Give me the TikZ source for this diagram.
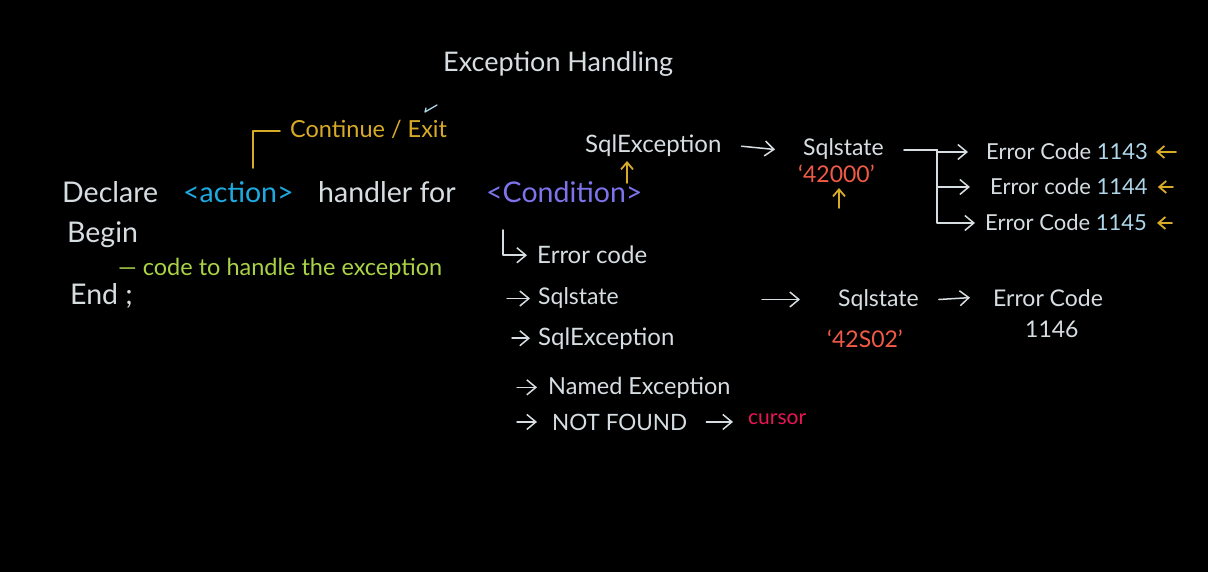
\documentclass[tikz,border=0pt]{standalone}
\usepackage{fontspec}
\setmainfont{Lato}
\usetikzlibrary{arrows.meta}
\definecolor{chalk}{RGB}{215,222,226}
\definecolor{cyel}{RGB}{215,170,40}
\definecolor{ccyan}{RGB}{30,170,225}
\definecolor{cpurp}{RGB}{125,115,235}
\definecolor{cgreen}{RGB}{170,210,70}
\definecolor{csalm}{RGB}{240,90,70}
\definecolor{cmag}{RGB}{235,20,85}
\definecolor{cdig}{RGB}{175,215,235}
\tikzset{
  txt/.style={anchor=base west, inner sep=0pt, text=chalk, font=\fontsize{23}{25}\selectfont},
  big/.style={font=\fontsize{28.5}{30}\selectfont},
  conn/.style={draw=chalk, line width=1.5pt, line cap=round, line join=round, -{Straight Barb[length=9pt,width=15pt,line width=1.5pt]}},
  plain/.style={draw=chalk, line width=1.5pt, line cap=round, line join=round},
  yarrow/.style={draw=cyel, line width=1.8pt, line cap=round, -{Straight Barb[length=7pt,width=12pt,line width=1.8pt]}},
  ybar/.style={draw=cyel, line width=1.6pt, line cap=round, line join=round},
}
\begin{document}
\begin{tikzpicture}[x=1pt,y=-1pt]
\fill[black] (0,0) rectangle (1208,572);
\useasboundingbox (0,0) rectangle (1208,572);

% title
\node[txt, font=\fontsize{27}{29}\selectfont] (title) at (443,72) {Exception Handling};

% syntax block
\node[txt, text=cyel, font=\fontsize{23.5}{25}\selectfont] (cont) at (290,138) {Continue / Exit};
\node[txt, big] (decl) at (62,203) {Declare};
\node[txt, big, text=ccyan] (action) at (183,203) {<action>};
\node[txt, big] (handler) at (318,203) {handler for};
\node[txt, big, text=cpurp] (cond) at (486,203) {<Condition>};
\node[txt, big] (begin) at (67,243) {Begin};
\node[txt, text=cgreen, font=\fontsize{23.5}{26}\selectfont] (code) at (118,276) {— code to handle the exception};
\node[txt, big] (end) at (70,305) {End ;};

% bracket from action to Continue/Exit
\coordinate (bk0) at (253,168);
\coordinate (bk) at (253,131);
\draw[ybar] (bk0) -- (bk) -- ([xshift=-10pt]cont.west |- bk);
% small tick above Exit
\draw[draw=cdig, line width=1.3pt, line cap=round, line join=round] (426,108) -- (425,112) -- (437,105);

% upper chain
\node[txt, font=\fontsize{24}{26}\selectfont] (sqlex) at (585,153) {SqlException};
\node[txt] (sqlst) at (803,156) {Sqlstate};
\node[txt, text=csalm] (st1) at (798,183) {`42000'};
\node[txt, font=\fontsize{22}{24}\selectfont] (e1) at (986,160) {Error Code \textcolor{cdig}{1143}};
\node[txt, font=\fontsize{22}{24}\selectfont] (e2) at (990,195) {Error code \textcolor{cdig}{1144}};
\node[txt, font=\fontsize{22}{24}\selectfont] (e3) at (985,231) {Error Code \textcolor{cdig}{1145}};

\draw[conn] ([xshift=20pt]sqlex.east) -- ([xshift=-28pt]sqlst.west);
\coordinate (br) at (937,150);
\draw[plain] ([xshift=20pt]sqlst.east |- br) -- (br);
\draw[conn] (br) |- ([xshift=-18pt]e1.west);
\draw[conn] (br) |- ([xshift=-20pt]e2.west);
\draw[conn] (br) |- ([xshift=-10pt]e3.west);

\coordinate (ya1s) at (627,183);
\coordinate (ya1e) at (627,161);
\draw[yarrow] (ya1s) -- (ya1e);
\coordinate (ya2s) at (839,208);
\coordinate (ya2e) at (839,188);
\draw[yarrow] (ya2s) -- (ya2e);

\draw[yarrow] ([xshift=28pt]e1.east) -- ([xshift=8pt]e1.east);
\draw[yarrow] ([xshift=25pt]e2.east) -- ([xshift=10pt]e2.east);
\draw[yarrow] ([xshift=25pt]e3.east) -- ([xshift=10pt]e3.east);

% condition list
\node[txt, font=\fontsize{24}{26}\selectfont] (l1) at (537,264) {Error code};
\node[txt] (l2) at (538,305) {Sqlstate};
\node[txt, font=\fontsize{24}{26}\selectfont] (l3) at (538,345) {SqlException};
\node[txt, font=\fontsize{23.5}{26}\selectfont] (l4) at (548,394) {Named Exception};
\node[txt, font=\fontsize{22.5}{24}\selectfont] (l5) at (552,430) {NOT FOUND};
\node[txt, text=cmag, font=\fontsize{21}{23}\selectfont] (cur) at (748,424) {cursor};

\coordinate (lt) at (503,230);
\draw[conn] (lt) |- ([xshift=-10pt]l1.west);
\draw[conn] ([xshift=-31pt]l2.west) -- ([xshift=-8pt]l2.west);
\draw[conn] ([xshift=-26pt]l3.west) -- ([xshift=-8pt]l3.west);
\draw[conn] ([xshift=-31pt]l4.west) -- ([xshift=-11pt]l4.west);
\draw[conn] ([xshift=-35pt]l5.west) -- ([xshift=-15pt]l5.west);
\draw[conn] ([xshift=19pt]l5.east) -- ([xshift=-15pt]cur.west |- l5.east);

% right chain
\node[txt] (sqlst2) at (838,306) {Sqlstate};
\node[txt, text=csalm] (st2) at (827,347) {`42S02'};
\node[txt] (ec) at (993,306) {Error Code};
\node[txt] (n1146) at (1025,337) {1146};
\draw[conn] ([xshift=-76pt]sqlst2.west) -- ([xshift=-38pt]sqlst2.west);
\draw[conn] ([xshift=20pt]sqlst2.east) -- ([xshift=-23pt]ec.west);
\end{tikzpicture}
\end{document}
